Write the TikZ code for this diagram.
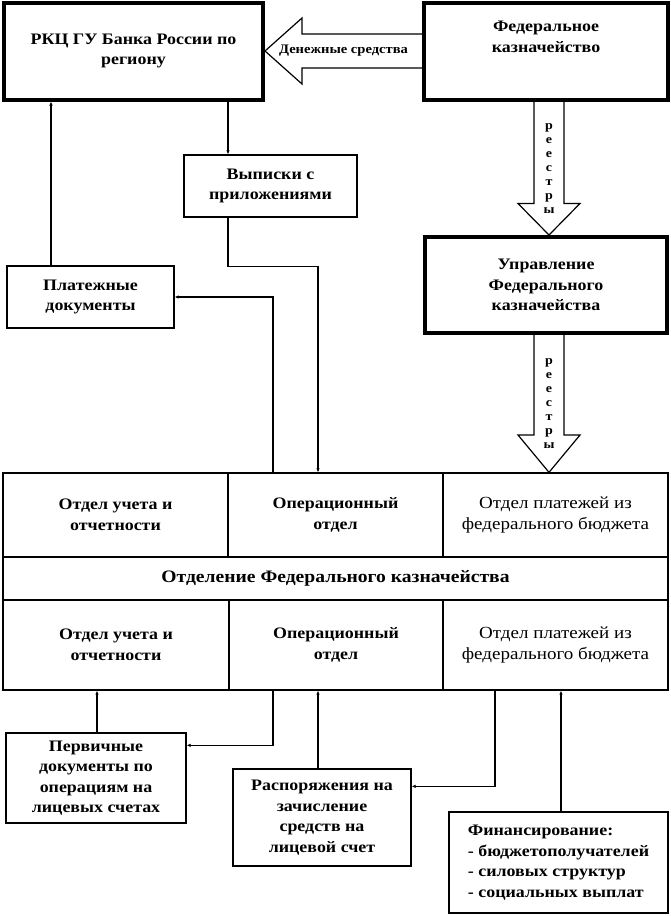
\documentclass[tikz,border=0pt]{standalone}
\usepackage{fontspec}
\setmainfont{Liberation Serif}[FakeStretch=1.12]
\usetikzlibrary{calc,arrows.meta}

\begin{document}
\begin{tikzpicture}[x=1pt,y=-1pt,>={Latex[length=4pt,width=3.5pt]},
    box/.style={draw,line width=1.3pt,align=center,inner sep=2pt,
      font=\fontsize{16}{20.5}\selectfont\bfseries},
    thickbox/.style={box,line width=4pt},
    cell/.style={box,minimum width=#1},
    light/.style={font=\fontsize{17}{21}\selectfont},
    fatline/.style={line width=1.2pt,line join=miter},
    vlab/.style={align=center,inner sep=0pt,font=\fontsize{12.5}{14}\selectfont\bfseries},
    moneylab/.style={inner sep=0pt,font=\fontsize{13}{15}\selectfont\bfseries}]

  \useasboundingbox (0,0) rectangle (671,916);

  % upper part
  \node[thickbox,minimum width=259pt,minimum height=97pt] (rkc) at (133.5,51) {РКЦ ГУ Банка России по\\региону};
  \node[thickbox,minimum width=244pt,minimum height=97pt,text depth=28pt] (fed) at (546,51) {Федеральное\\казначейство};
  \node[thickbox,minimum width=242pt,minimum height=96pt] (upr) at (546,285) {Управление\\Федерального\\казначейства};
  \node[box,minimum width=173pt,minimum height=62pt] (vyp) at (270.5,186) {Выписки с\\приложениями};
  \node[box,minimum width=167pt,minimum height=62pt] (pay) at (90.5,297) {Платежные\\документы};

  % department
  \node[cell=225pt,minimum height=84pt] (acc1) at (115.5,515) {Отдел учета и\\отчетности};
  \node[cell=215pt,minimum height=84pt] (op1) at (335.5,515) {Операционный\\отдел};
  \node[cell=225pt,minimum height=84pt,light] (pl1) at (555.5,515) {Отдел платежей из\\федерального бюджета};
  \node[cell=665pt,minimum height=43pt,font=\fontsize{17.5}{21}\selectfont\bfseries] (otd) at (335.5,578.5) {Отделение Федерального казначейства};
  \node[cell=226pt,minimum height=90pt] (acc2) at (116,645) {Отдел учета и\\отчетности};
  \node[cell=214pt,minimum height=90pt] (op2) at (336,645) {Операционный\\отдел};
  \node[cell=225pt,minimum height=90pt,light] (pl2) at (555.5,645) {Отдел платежей из\\федерального бюджета};

  % lower part
  \node[box,minimum width=180pt,minimum height=90pt] (perv) at (96,778) {Первичные\\документы по\\операциям на\\лицевых счетах};
  \node[box,minimum width=178pt,minimum height=97pt] (rasp) at (322,817.5) {Распоряжения на\\зачисление\\средств на\\лицевой счет};
  \node[box,minimum width=219pt,minimum height=101pt,align=left] (fin) at (558.5,862.5) {Финансирование:\\- бюджетополучателей\\- силовых структур\\- социальных выплат};

  \coordinate (xa) at (51,0);
  \coordinate (xb) at (228,0);
  \coordinate (xc) at (273,0);
  \coordinate (xd) at (318,0);
  \coordinate (xe) at (97,0);
  \coordinate (xf) at (495,0);
  \coordinate (xg) at (561,0);
  \coordinate (xr) at (549,0);

  % money
  \draw[fatline] (rkc.east) -- ++(37,-33) -- ++(0,16) coordinate (m1) -- (m1 -| fed.west);
  \draw[fatline] (rkc.east) -- ++(37,33) -- ++(0,-16) coordinate (m2) -- (m2 -| fed.west);
  \node[moneylab] (money) at ($(rkc.east)!0.5!(fed.west)$) {Денежные средства};

  % registers
  \draw[fatline] ($(fed.south -| xr)+(-15,0)$) -- ++(0,102) coordinate (r1) -- ++(-16,0)
    -- (upr.north -| xr) -- ($(r1)+(46,0)$) -- ($(r1)+(30,0)$) -- ($(fed.south -| xr)+(15,0)$);
  \node[vlab] (reg1) at ($(fed.south -| xr)!0.5!(upr.north -| xr)$) {р\\е\\е\\с\\т\\р\\ы};
  \draw[fatline] ($(upr.south -| xr)+(-15,0)$) -- ++(0,100) coordinate (r2) -- ++(-16,0)
    -- (pl1.north -| xr) -- ($(r2)+(46,0)$) -- ($(r2)+(30,0)$) -- ($(upr.south -| xr)+(15,0)$);
  \node[vlab] (reg2) at ($(upr.south -| xr)!0.5!(pl1.north -| xr)$) {р\\е\\е\\с\\т\\р\\ы};

  % documents
  \draw[line width=1.2pt,->] (pay.north -| xa) -- (rkc.south -| xa);
  \draw[line width=1.2pt,->] (rkc.south -| xb) -- (vyp.north -| xb);
  \draw[line width=1.2pt,->] (vyp.south -| xb) -- ++(0,49) -| (op1.north -| xd);
  \draw[line width=1.2pt,->] (op1.north -| xc) |- (pay.east);

  \draw[line width=1.2pt,->] (perv.north -| xe) -- (acc2.south -| xe);
  \draw[line width=1.2pt,->] (op2.south -| xc) |- ($(perv.north east)+(0,13)$);
  \draw[line width=1.2pt,->] (rasp.north -| xd) -- (op2.south -| xd);
  \draw[line width=1.2pt,->] (pl2.south -| xf) |- ($(rasp.north east)+(0,18)$);
  \draw[line width=1.2pt,->] (fin.north -| xg) -- (pl2.south -| xg);

\end{tikzpicture}
\end{document}
